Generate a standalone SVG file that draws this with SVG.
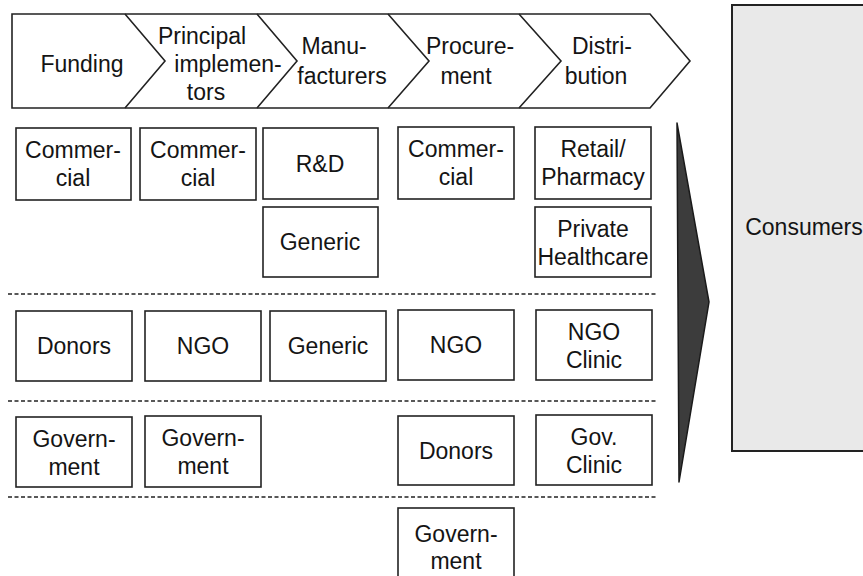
<svg xmlns="http://www.w3.org/2000/svg" width="863" height="576" viewBox="0 0 863 576">
<style>
text{font-family:"Liberation Sans",Arial,Helvetica,sans-serif;font-size:23px;fill:#141414;text-anchor:middle}
.bx{fill:#fff;stroke:#222;stroke-width:1.6}
.ln{fill:none;stroke:#222;stroke-width:1.6;stroke-linejoin:miter}
.dash{stroke:#222;stroke-width:1.6;stroke-dasharray:4 2.5}
</style>
<rect width="863" height="576" fill="#fff"/>
<g id="chevrons">
<polygon class="ln" points="12,14 650,14 690,61 650,108 12,108"/>
<polyline class="ln" points="125,14 165,61 125,108"/>
<polyline class="ln" points="257,14 297,61 257,108"/>
<polyline class="ln" points="388,14 429,61 388,108"/>
<polyline class="ln" points="519,14 561,61 519,108"/>
<text x="82" y="72">Funding</text>
<text x="202" y="44">Principal</text>
<text x="228" y="72">implemen-</text>
<text x="206" y="100">tors</text>
<text x="334" y="54">Manu-</text>
<text x="342" y="84">facturers</text>
<text x="470" y="54">Procure-</text>
<text x="466" y="84">ment</text>
<text x="602" y="54">Distri-</text>
<text x="596" y="84">bution</text>
</g>
<g id="separators">
<line class="dash" x1="8" y1="294" x2="656" y2="294"/>
<line class="dash" x1="8" y1="401" x2="656" y2="401"/>
<line class="dash" x1="8" y1="497" x2="656" y2="497"/>
</g>
<g id="f-commercial"><rect class="bx" x="16" y="128" width="115" height="72"/><text x="73" y="158">Commer-</text><text x="73" y="186">cial</text></g>
<g id="p-commercial"><rect class="bx" x="140" y="128" width="116" height="72"/><text x="198" y="158">Commer-</text><text x="198" y="186">cial</text></g>
<g id="m-rd"><rect class="bx" x="263" y="128" width="115" height="71"/><text x="320" y="172">R&amp;D</text></g>
<g id="pr-commercial"><rect class="bx" x="398" y="127" width="116" height="72"/><text x="456" y="157">Commer-</text><text x="456" y="185">cial</text></g>
<g id="d-retail"><rect class="bx" x="535" y="127" width="116" height="72"/><text x="593" y="157">Retail/</text><text x="593" y="185">Pharmacy</text></g>
<g id="m-generic1"><rect class="bx" x="263" y="207" width="115" height="70"/><text x="320" y="250">Generic</text></g>
<g id="d-private"><rect class="bx" x="535" y="207" width="116" height="70"/><text x="593" y="237">Private</text><text x="593" y="265">Healthcare</text></g>
<g id="f-donors"><rect class="bx" x="16" y="311" width="116" height="70"/><text x="74" y="354">Donors</text></g>
<g id="p-ngo"><rect class="bx" x="145" y="311" width="116" height="70"/><text x="203" y="354">NGO</text></g>
<g id="m-generic2"><rect class="bx" x="270" y="311" width="116" height="70"/><text x="328" y="354">Generic</text></g>
<g id="pr-ngo"><rect class="bx" x="398" y="310" width="116" height="70"/><text x="456" y="353">NGO</text></g>
<g id="d-ngoclinic"><rect class="bx" x="536" y="310" width="116" height="70"/><text x="594" y="340">NGO</text><text x="594" y="368">Clinic</text></g>
<g id="f-gov"><rect class="bx" x="16" y="417" width="116" height="70"/><text x="74" y="447">Govern-</text><text x="74" y="475">ment</text></g>
<g id="p-gov"><rect class="bx" x="145" y="416" width="116" height="71"/><text x="203" y="446">Govern-</text><text x="203" y="474">ment</text></g>
<g id="pr-donors"><rect class="bx" x="398" y="416" width="116" height="69"/><text x="456" y="459">Donors</text></g>
<g id="d-govclinic"><rect class="bx" x="536" y="415" width="116" height="70"/><text x="594" y="445">Gov.</text><text x="594" y="473">Clinic</text></g>
<g id="pr-gov"><rect class="bx" x="398" y="508" width="116" height="80"/><text x="456" y="542">Govern-</text><text x="456" y="569">ment</text></g>
<g id="connectors">
<polygon points="677,123 709,302 679,482" fill="#3c3c3c" stroke="#1a1a1a" stroke-width="1.5" stroke-linejoin="round"/>
</g>
<g id="consumers">
<rect x="732" y="5" width="140" height="446" fill="#e9e9e9" stroke="#222" stroke-width="2"/>
<text x="804" y="235">Consumers</text>
</g>
</svg>
